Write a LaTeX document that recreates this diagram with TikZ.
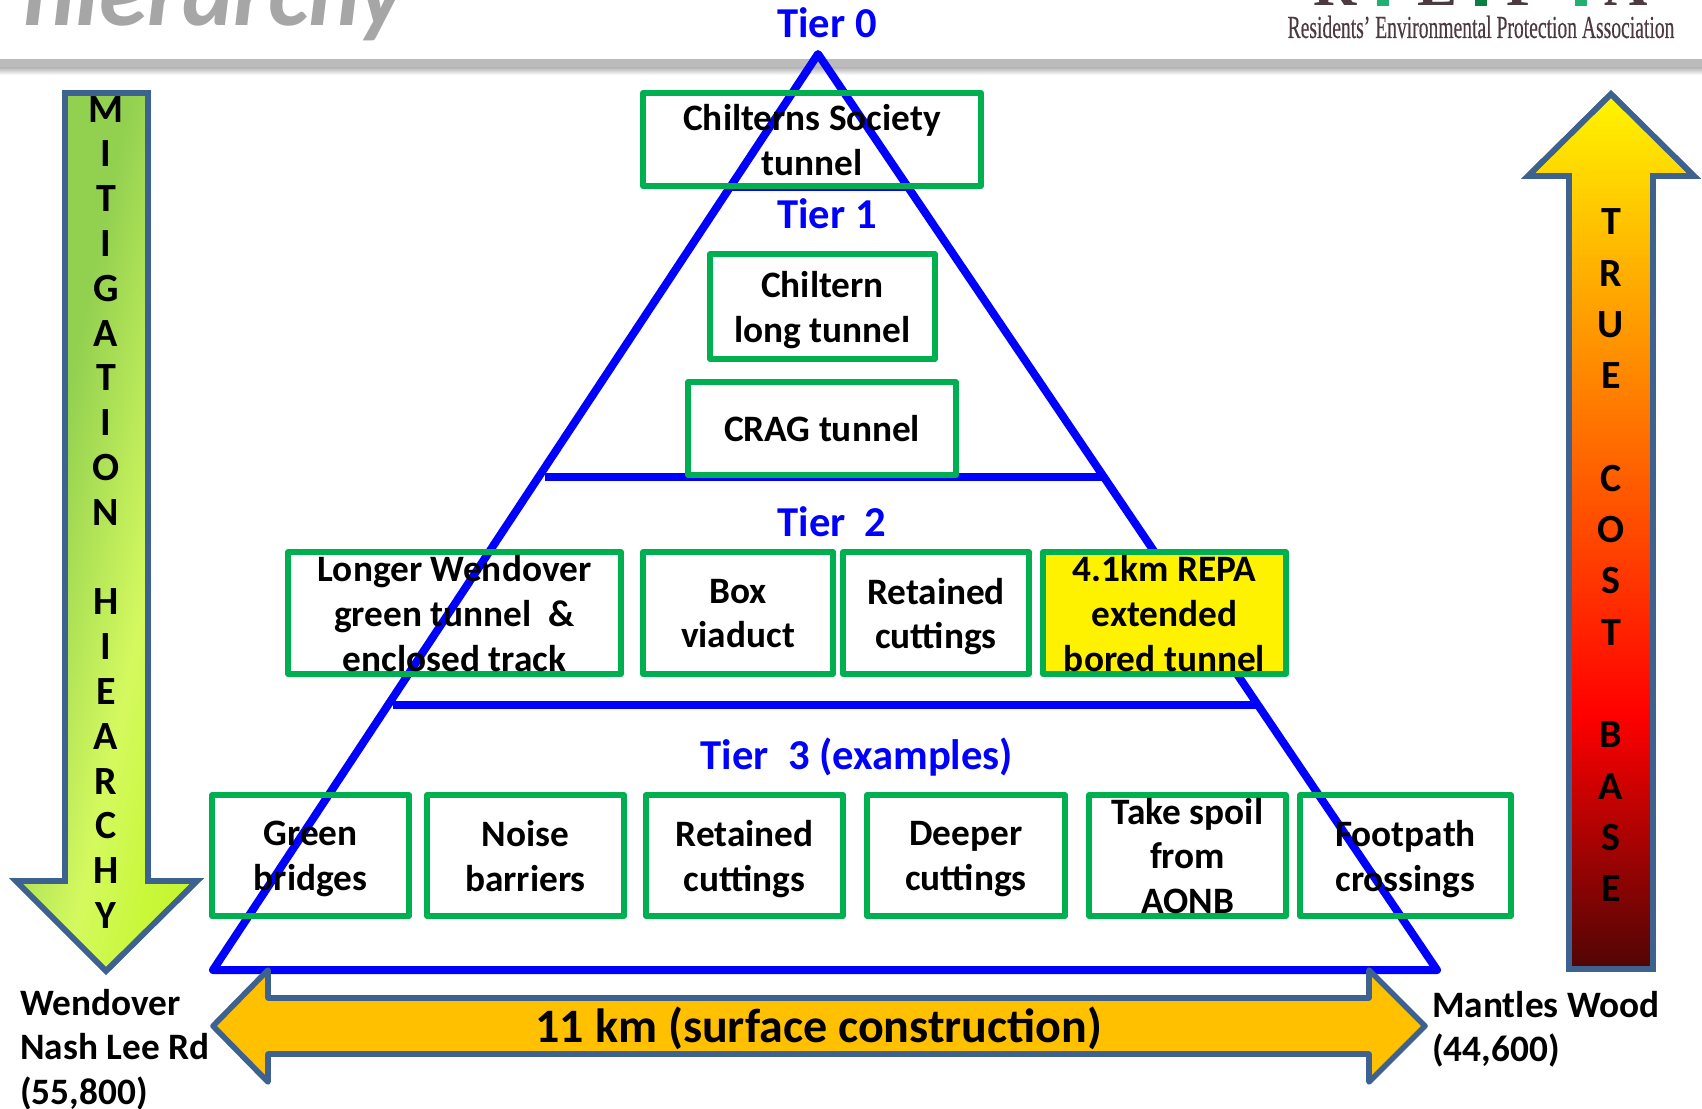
\documentclass[tikz,border=0pt]{standalone}
\usepackage{fontspec}
\usepackage{graphicx}
\setmainfont{Carlito}
\newfontfamily\logofont[FakeBold=0.4]{Liberation Serif}
\newfontfamily\logocaps{Liberation Serif}
\definecolor{grbox}{HTML}{00B050}
\definecolor{arrowedge}{HTML}{3E6290}
\definecolor{tierblue}{HTML}{0000FF}
\definecolor{greenA}{HTML}{92D050}
\definecolor{greenB}{HTML}{D4F95F}
\definecolor{greenC}{HTML}{C8F838}
\definecolor{greenD}{HTML}{C4F530}
\definecolor{costY}{HTML}{FFF600}
\definecolor{costR}{HTML}{FF0000}
\definecolor{costD}{HTML}{500505}
\definecolor{lgbrown}{HTML}{4C3A40}
\definecolor{lggreen}{HTML}{22B070}
\definecolor{lggreenb}{HTML}{0A8040}
\definecolor{bottomfill}{HTML}{FFC000}
\definecolor{titlegray}{HTML}{A6A6A6}
\definecolor{rulegray}{HTML}{BBBBBB}
\pgfdeclareverticalshading{mitigshade}{100bp}{
  color(0bp)=(greenA); color(38.75bp)=(greenA); color(58.4bp)=(greenB);
  color(69.4bp)=(greenC); color(75bp)=(greenD); color(100bp)=(greenD)}
\pgfdeclareverticalshading{costshade}{100bp}{
  color(0bp)=(costD); color(25bp)=(costD); color(39.5bp)=(costR); color(75bp)=(costY); color(100bp)=(costY)}
\tikzset{
  x=1pt,y=-1pt,
  body/.style={font=\bfseries\fontsize{37.3}{44.6}\selectfont,align=center,inner sep=0pt,text=black,
    execute at begin node=\strut, execute at end node=\strut, yshift=-7pt},
  tier/.style={font=\bfseries\fontsize{42.6}{50}\selectfont,text=tierblue,inner sep=0pt},
  side/.style={font=\bfseries\fontsize{37.3}{44.6}\selectfont,align=left,inner sep=0pt,anchor=north west},
  stack/.style={font=\bfseries\fontsize{40}{#1}\selectfont,align=center,inner sep=0pt},
  gbox/.style={draw=grbox,line width=5.4pt,line join=round},
  pyr/.style={draw=tierblue,line width=8pt,line join=round},
  tierline/.style={draw=tierblue,line width=8pt},
  bigarrow/.style={draw=arrowedge,line width=5.6pt,line join=miter},
}
\newcommand{\tbox}[6]{\draw[gbox,#1] (#2) rectangle (#3) node[midway,body,#6] (#4) {#5};}
\begin{document}
\begin{tikzpicture}
\useasboundingbox (0,0) rectangle (1702,1108);
\clip (0,0) rectangle (1702,1108);
\fill[white] (0,0) rectangle (1702,1108);
% header remnants
\node[anchor=base east,inner sep=0pt,text=titlegray,font=\bfseries\itshape\fontsize{98}{98}\selectfont] (title) at (405,26) {hierarchy};
\fill[rulegray] (0,59) rectangle (1702,68);
\shade[top color=rulegray,bottom color=white] (0,68) rectangle (1702,75);
\foreach \n/\lx/\lt in {la/1335/R,lb/1437/E,lc/1525/P,ld/1626/A}{
  \node[anchor=base,inner sep=0pt,text=lgbrown,font=\logocaps\bfseries\fontsize{60}{60}\selectfont] (\n) at (\lx,6) {\lt};
}
\fill[lggreen] (1377,0) rectangle (1389,6);
\fill[lggreenb] (1475,0) rectangle (1487,6);
\fill[lggreen] (1575,0) rectangle (1587,6);
\node[inner sep=0pt,text=lgbrown,font=\logofont\fontsize{32}{32}\selectfont] (assoc) at (1481,27) {\scalebox{0.612}[1]{Residents’ Environmental Protection Association}};
% pyramid
\draw[pyr] (818,54) -- (1437,970) -- (213,970) -- cycle;
\draw[tierline] (729,187) -- (907,187);
\draw[tierline] (545,476.5) -- (1103,476.5);
\draw[tierline] (393,704.5) -- (1256,704.5);
% tier labels
\node[tier] (t0) at (827,23) {Tier 0};
\node[tier] (t1) at (827,214) {Tier 1};
\node[tier] (t2) at (832,522) {Tier\ \ 2};
\node[tier] (t3) at (857,757) {Tier\ \ 3 (examples)};
% boxes
\tbox{}{643,93}{981,186}{b1}{Chilterns Society\\tunnel}{}
\tbox{}{710,254}{935,359}{b2}{Chiltern\\long tunnel}{}
\tbox{}{688,382}{956,475}{b3}{CRAG tunnel}{yshift=2.7pt}
\tbox{}{288,552}{621,674}{b4}{Longer Wendover\\green tunnel\ \ \&\\enclosed track}{}
\tbox{}{643,552}{833,674}{b5}{Box\\viaduct}{}
\tbox{}{843,552}{1029,674}{b6}{Retained\\cuttings}{}
\tbox{fill=yellow}{1043,552}{1286,674}{b7}{4.1km REPA\\extended\\bored tunnel}{}
\tbox{}{212,795}{409,916}{c1}{Green\\bridges}{}
\tbox{}{427,795}{624,916}{c2}{Noise\\barriers}{}
\tbox{}{646,795}{843,916}{c3}{Retained\\cuttings}{}
\tbox{}{867,795}{1065,916}{c4}{Deeper\\cuttings}{}
\tbox{}{1089,795}{1286,916}{c5}{Take spoil\\from\\AONB}{}
\tbox{}{1300,795}{1511,916}{c6}{Footpath\\crossings}{}
% left arrow
\path[bigarrow,shading=mitigshade,shading angle=258] (65,93) -- (148,93) -- (148,881) -- (197,881) -- (106,971) -- (16,881) -- (65,881) -- cycle;
\draw[bigarrow] (65,93) -- (148,93) -- (148,881) -- (197,881) -- (106,971) -- (16,881) -- (65,881) -- cycle;
\node[stack=44.8pt,anchor=north] (mitig) at (106,96) {M\\I\\T\\I\\G\\A\\T\\I\\O\\N\\ \\H\\I\\E\\A\\R\\C\\H\\Y};
% right arrow
\path[bigarrow,shading=costshade] (1611,94) -- (1694,176) -- (1653,176) -- (1653,969) -- (1569,969) -- (1569,176) -- (1528,176) -- cycle;
\draw[bigarrow] (1611,94) -- (1694,176) -- (1653,176) -- (1653,969) -- (1569,969) -- (1569,176) -- (1528,176) -- cycle;
\node[stack=51.3pt,anchor=north] (cost) at (1611,208.6) {T\\R\\U\\E\\ \\C\\O\\S\\T\\ \\B\\A\\S\\E};
% bottom arrow
\draw[bigarrow,fill=bottomfill,line join=round] (213,1026) -- (268,970) -- (268,998) -- (1369,998) -- (1369,970) -- (1425,1026) -- (1369,1082) -- (1369,1054) -- (268,1054) -- (268,1082) -- cycle;
\node[inner sep=0pt,font=\bfseries\fontsize{48}{48}\selectfont] (surf) at (819,1028) {11 km (surface construction)};
% side labels
\node[side] (wend) at (20,989) {Wendover\\Nash Lee Rd\\(55,800)};
\node[side] (mant) at (1432,991) {Mantles Wood\\(44,600)};
\end{tikzpicture}
\end{document}
